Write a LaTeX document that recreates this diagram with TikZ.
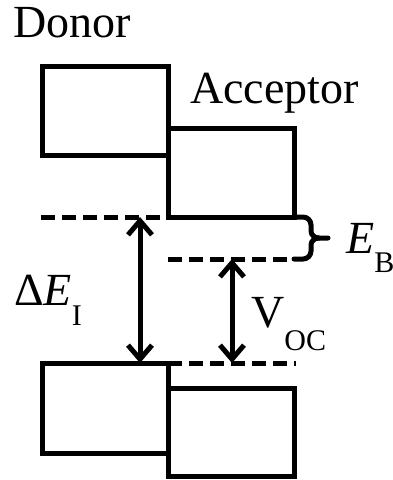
\documentclass[tikz,border=0pt]{standalone}
\usepackage{fontspec}
\setmainfont{Liberation Serif}
\usetikzlibrary{arrows.meta}
\begin{document}
\begin{tikzpicture}[x=1pt,y=-1pt,
  lvl/.style={draw, line width=5pt},
  dashlvl/.style={line width=5pt, dash pattern=on 14pt off 7pt},
  lab/.style={anchor=base west, inner sep=0pt, font=\fontsize{46}{46}\selectfont},
  dbl/.style={{Straight Barb[length=14pt,width=24pt]}-{Straight Barb[length=14pt,width=24pt]}, line width=5pt},
  bracepart/.style={line width=5pt, line cap=round}]
\useasboundingbox (0,0) rectangle (393,480);
% boxes
\draw[lvl] (42,66) rectangle (168,155);
\draw[lvl] (168,128) rectangle (294,217);
\draw[lvl] (42,363) rectangle (168,453);
\draw[lvl] (168,388) rectangle (294,476);
% dashed levels
\draw[dashlvl] (41,217) -- (166,217);
\draw[dashlvl] (168,259) -- (294,259);
\draw[dashlvl] (168,363) -- (296,363);
% brace
\draw[bracepart] (294,217) -- (303,217) to[out=0,in=90] (311,225) -- (311,231) to[out=-90,in=180] (319,238) -- (328,238);
\draw[bracepart] (319,238) to[out=180,in=90] (311,245) -- (311,251) to[out=-90,in=0] (303,259) -- (294,259);
% arrow end points
\coordinate (eiTop) at (140,217);
\coordinate (eiBot) at (140,363);
\coordinate (vocTop) at (232,259);
\coordinate (vocBot) at (232,363);
\draw[dbl] (eiTop) -- (eiBot);
\draw[dbl] (vocTop) -- (vocBot);
% labels
\node[lab] (donor) at (13,37) {Donor};
\node[lab] (acceptor) at (190,103) {Acceptor};
\node[lab] (eb) at (346,253) {\textit{E}\raisebox{-19pt}{\fontsize{30}{30}\selectfont B}};
\node[lab] (dei) at (14,305) {Δ\textit{E}\raisebox{-20pt}{\fontsize{30}{30}\selectfont I}};
\node[lab] (voc) at (251,327) {V\raisebox{-23pt}{\fontsize{30}{30}\selectfont OC}};
\end{tikzpicture}
\end{document}
